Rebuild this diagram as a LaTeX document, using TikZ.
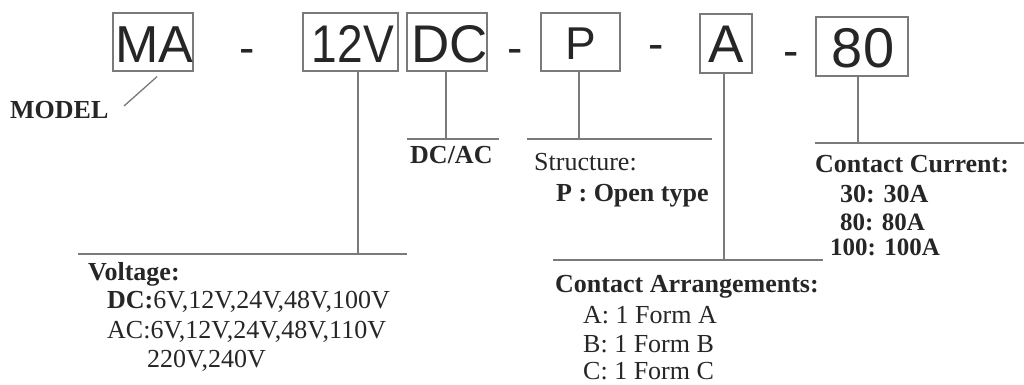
\documentclass[tikz,border=0pt]{standalone}
\usepackage{fontspec}
\setmainfont{Liberation Serif}
\newfontfamily\boxfont{Liberation Sans}
\definecolor{ln}{HTML}{7A7A7A}
\definecolor{tx}{HTML}{262626}
\begin{document}
\begin{tikzpicture}[x=1pt,y=-1pt,
  codebox/.style={draw=ln, line width=1.3pt, inner sep=0pt},
  boxtxt/.style={anchor=base, inner sep=0pt, text=tx, font=\boxfont\fontsize{53}{53}\selectfont},
  lbl/.style={anchor=base west, inner sep=0pt, text=tx, font=\fontsize{26}{30}\selectfont},
  blbl/.style={lbl, font=\bfseries\fontsize{26}{30}\selectfont},
  conn/.style={draw=ln, line width=1.3pt}]
\useasboundingbox (0,0) rectangle (1024,385);
% code boxes
\node[codebox, minimum width=80pt, minimum height=58pt] (bMA) at (153,42) {};
\node[codebox, minimum width=95pt, minimum height=58pt] (b12) at (350.5,42) {};
\node[codebox, minimum width=80pt, minimum height=58pt] (bDC) at (447,42) {};
\node[codebox, minimum width=79pt, minimum height=58pt] (bP) at (580.5,42) {};
\node[codebox, minimum width=52pt, minimum height=59pt] (bA) at (726,43.5) {};
\node[codebox, minimum width=92pt, minimum height=59pt] (b80) at (862,46.5) {};
% box texts
\node[boxtxt, font=\boxfont\fontsize{52}{52}\selectfont] (tMA) at (154,63) {MA};
\node[boxtxt] (t12) at (353,63) {\scalebox{0.87}[1]{12V}};
\node[boxtxt] (tDC) at (450,63) {DC};
\node[boxtxt, font=\boxfont\fontsize{46}{46}\selectfont] (tP) at (581,60) {P};
\node[boxtxt] (tA) at (726,63) {A};
\node[boxtxt, font=\boxfont\fontsize{56}{56}\selectfont] (t80) at (863,68) {80};
% dashes
\node[boxtxt, font=\boxfont\fontsize{46}{46}\selectfont] (d1) at (247,64) {-};
\node[boxtxt, font=\boxfont\fontsize{46}{46}\selectfont] (d2) at (515,64) {-};
\node[boxtxt, font=\boxfont\fontsize{46}{46}\selectfont] (d3) at (656,60) {-};
\node[boxtxt, font=\boxfont\fontsize{46}{46}\selectfont] (d4) at (791,67) {-};
% leader line coordinates
\coordinate (mEnd) at (124,106);
\coordinate (v12) at (358,254);
\coordinate (vDC) at (446,139);
\coordinate (vP) at (579,139);
\coordinate (vA) at (724,260);
\coordinate (v80) at (858,143);
\coordinate (hVa) at (78,254);   \coordinate (hVb) at (407,254);
\coordinate (hDa) at (407,139);  \coordinate (hDb) at (499,139);
\coordinate (hSa) at (527,139);  \coordinate (hSb) at (712,139);
\coordinate (hAa) at (553,260);  \coordinate (hAb) at (823,260);
\coordinate (hCa) at (815,143);  \coordinate (hCb) at (1024,143);
% connectors
\draw[conn] ([xshift=4pt,yshift=-5pt]bMA.south) -- (mEnd);
\draw[conn] (v12 |- b12.south) -- (v12);
\draw[conn] (vDC |- bDC.south) -- (vDC);
\draw[conn] (vP |- bP.south) -- (vP);
\draw[conn] (vA |- bA.south) -- (vA);
\draw[conn] (v80 |- b80.south) -- (v80);
\draw[conn] (hVa) -- (hVb);
\draw[conn] (hDa) -- (hDb);
\draw[conn] (hSa) -- (hSb);
\draw[conn] (hAa) -- (hAb);
\draw[conn] (hCa) -- (hCb);
% labels
\node[blbl] (model) at (10,118) {MODEL};
\node[blbl] (dcac) at (410,163) {DC/AC};
\node[lbl] (struct) at (534,170) {Structure:};
\node[blbl] (popen) at (556,201) {P : Open type};
\node[blbl] (ccur) at (815,172) {Contact Current:};
\node[blbl] (c30) at (840,202) {30: 30A};
\node[blbl, font=\bfseries\fontsize{25}{28}\selectfont] (c80) at (840,230) {80: 80A};
\node[blbl, font=\bfseries\fontsize{25}{28}\selectfont] (c100) at (830,255) {100: 100A};
\node[blbl] (carr) at (555,292) {Contact Arrangements:};
\node[lbl] (fA) at (583,323) {A: 1 Form A};
\node[lbl] (fB) at (583,352) {B: 1 Form B};
\node[lbl] (fC) at (583,379) {C: 1 Form C};
\node[blbl] (volt) at (88,280) {Voltage:};
\node[lbl] (vdc) at (107,308) {\textbf{DC:}6V,12V,24V,48V,100V};
\node[lbl] (vac) at (107,338) {AC:6V,12V,24V,48V,110V};
\node[lbl] (v220) at (147,367) {220V,240V};
\end{tikzpicture}
\end{document}
